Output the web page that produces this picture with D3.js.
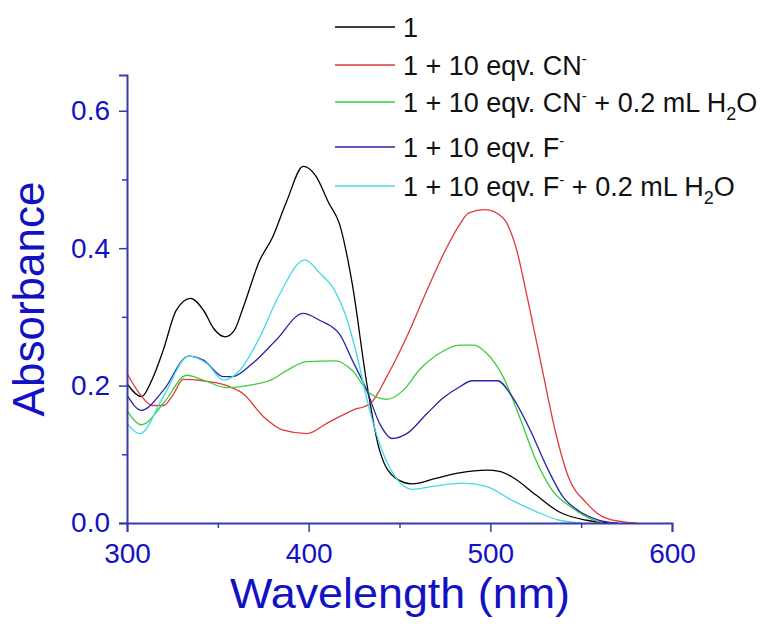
<!DOCTYPE html>
<html>
<head>
<meta charset="utf-8">
<script src="https://cdn.jsdelivr.net/npm/d3@7/dist/d3.min.js"></script>
<style>
  html, body { margin: 0; padding: 0; background: #fff; }
  svg { display: block; font-family: "Liberation Sans", Arial, sans-serif; }
</style>
</head>
<body>
<svg id="chart" width="762" height="624"></svg>
<script>
// [wavelength nm, absorbance]
const compound = [[300,0.203],[308,0.184],[314,0.21],[320,0.252],[327,0.309],[335,0.327],[342,0.31],[348,0.282],[354,0.271],[359,0.28],[364,0.314],[373,0.382],[380,0.415],[388,0.469],[397,0.519],[404,0.505],[411,0.466],[417,0.435],[424,0.348],[432,0.203],[439,0.106],[448,0.065],[457,0.057],[470,0.065],[483,0.073],[498,0.077],[505,0.075],[512,0.067],[525,0.041],[538,0.016],[553,0.004],[565,0]];
const withCN = [[300,0.218],[307,0.188],[314,0.171],[320,0.171],[325,0.185],[331,0.209],[342,0.207],[355,0.2],[364,0.188],[375,0.155],[386,0.135],[399,0.13],[410,0.145],[424,0.164],[434,0.174],[443,0.213],[454,0.271],[465,0.338],[476,0.401],[483,0.434],[488,0.451],[497,0.456],[507,0.444],[514,0.402],[521,0.32],[529,0.218],[536,0.131],[543,0.067],[553,0.029],[562,0.009],[575,0.001],[580,0]];
const withCNWater = [[300,0.164],[308,0.143],[320,0.174],[333,0.215],[342,0.208],[355,0.197],[366,0.2],[380,0.209],[388,0.222],[399,0.235],[415,0.236],[424,0.222],[434,0.188],[443,0.18],[452,0.193],[461,0.223],[472,0.247],[483,0.259],[491,0.259],[498,0.247],[507,0.213],[516,0.155],[525,0.092],[534,0.048],[544,0.024],[553,0.009],[562,0]];
const withF = [[300,0.186],[308,0.164],[320,0.193],[334,0.243],[342,0.237],[353,0.213],[358,0.213],[369,0.232],[382,0.266],[397,0.305],[406,0.295],[417,0.275],[424,0.237],[432,0.193],[439,0.145],[446,0.123],[454,0.13],[465,0.159],[474,0.182],[483,0.198],[490,0.207],[504,0.207],[512,0.184],[522,0.135],[531,0.082],[540,0.038],[549,0.017],[560,0.004],[570,0]];
const withFWater = [[300,0.145],[307,0.13],[320,0.184],[334,0.243],[344,0.232],[353,0.208],[362,0.222],[373,0.27],[384,0.333],[398,0.383],[406,0.364],[414,0.34],[420,0.305],[426,0.25],[433,0.17],[440,0.108],[448,0.066],[457,0.049],[470,0.054],[485,0.058],[498,0.053],[512,0.033],[525,0.017],[538,0.004],[550,0]];

const xTicks = [300, 400, 500, 600];
const xMinorTicks = [350, 450, 550];
const yTicks = [0, 0.2, 0.4, 0.6];
const yMinorTicks = [0.1, 0.3, 0.5];

const series = [
  {data: compound, color: '#000000', label: [['1']]},
  {data: withCN, color: '#e03a3a', label: [['1 + 10 eqv. CN'], ['-', 'sup']]},
  {data: withCNWater, color: '#3ccc3c', label: [['1 + 10 eqv. CN'], ['-', 'sup'], [' + 0.2 mL H'], ['2', 'sub'], ['O']]},
  {data: withF, color: '#2626a6', label: [['1 + 10 eqv. F'], ['-', 'sup']]},
  {data: withFWater, color: '#3fdbe4', label: [['1 + 10 eqv. F'], ['-', 'sup'], [' + 0.2 mL H'], ['2', 'sub'], ['O']]}
];
const legendRows = [27, 65, 102, 147, 186];

const axisColor = '#3a3aaa',
  textColor = '#1212c4';

const svg = d3.select('#chart');

const x = d3.scaleLinear().domain([300, 600]).range([127, 672]);
const y = d3.scaleLinear().domain([0, 0.652]).range([523, 75]);

// curves
const line = d3.line()
  .x(d => x(d[0]))
  .y(d => y(d[1]))
  .curve(d3.curveMonotoneX);

svg.append('g').selectAll('path')
  .data(series)
  .join('path')
  .attr('fill', 'none')
  .attr('stroke', d => d.color)
  .attr('stroke-width', 1.3)
  .attr('d', d => line(d.data));

// x axis
const xAxis = svg.append('g').attr('transform', `translate(0,${y(0)})`);
xAxis.call(d3.axisBottom(x).tickValues(xTicks).tickSize(9).tickPadding(11).tickFormat(d3.format('d')));
xAxis.append('g').call(d3.axisBottom(x).tickValues(xMinorTicks).tickSize(5).tickFormat(''))
  .call(g => g.select('.domain').remove())
  .call(g => g.selectAll('text').remove());

// y axis
const yAxis = svg.append('g').attr('transform', `translate(${x(300)},0)`);
yAxis.call(d3.axisLeft(y).tickValues(yTicks).tickSize(8).tickPadding(9).tickFormat(d3.format('.1f')));
yAxis.append('g').call(d3.axisLeft(y).tickValues(yMinorTicks).tickSize(5).tickFormat(''))
  .call(g => g.select('.domain').remove())
  .call(g => g.selectAll('text').remove());

svg.selectAll('.domain').attr('stroke', axisColor).attr('stroke-width', 2);
svg.selectAll('.tick line').attr('stroke', axisColor).attr('stroke-width', 1.5);
svg.selectAll('.tick text')
  .attr('fill', textColor)
  .style('font-size', '28px')
  .style('font-family', '"Liberation Sans", Arial, sans-serif');

// axis titles
svg.append('text')
  .attr('x', 400)
  .attr('y', 608)
  .attr('text-anchor', 'middle')
  .attr('fill', textColor)
  .style('font-size', '42px')
  .attr('textLength', 340)
  .attr('lengthAdjust', 'spacingAndGlyphs')
  .text('Wavelength (nm)');

svg.append('text')
  .attr('transform', 'translate(44,299) rotate(-90)')
  .attr('text-anchor', 'middle')
  .attr('fill', textColor)
  .style('font-size', '44px')
  .text('Absorbance');

// legend
const legend = svg.append('g');
series.forEach((s, i) => {
  const ly = legendRows[i];
  legend.append('line')
    .attr('x1', 335).attr('x2', 395)
    .attr('y1', ly).attr('y2', ly)
    .attr('stroke', s.color)
    .attr('stroke-width', 1.3);
  const t = legend.append('text')
    .attr('x', 403)
    .attr('y', ly + 10)
    .attr('fill', '#111')
    .style('font-size', '27px');
  let shift = 0; // current baseline offset, undone on the next piece
  s.label.forEach(([txt, kind]) => {
    const target = kind === 'sup' ? -11 : kind === 'sub' ? 8 : 0;
    const span = t.append('tspan').attr('dy', target - shift).text(txt);
    if (kind === 'sup') span.style('font-size', '15px');
    if (kind === 'sub') span.style('font-size', '18px');
    shift = target;
  });
});
</script>
</body>
</html>
